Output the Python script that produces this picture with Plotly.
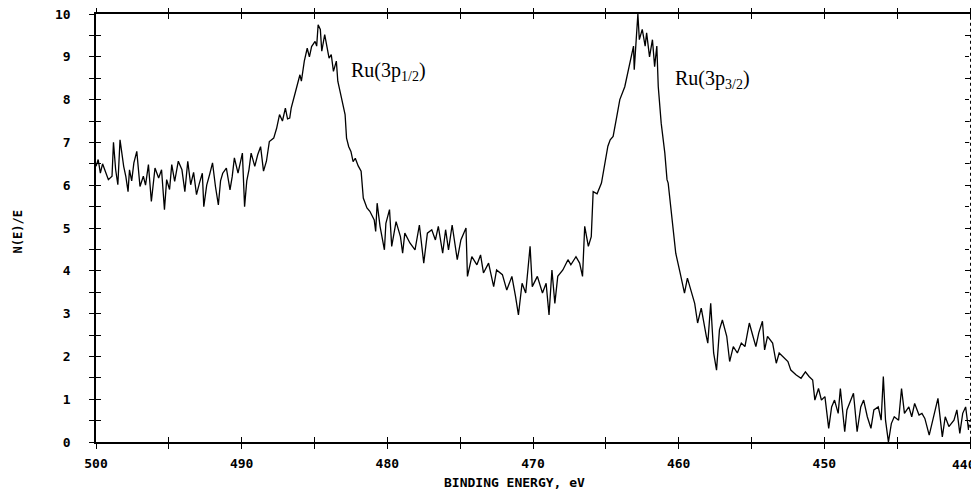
import plotly.graph_objects as go

# ---- data (binding energy in eV, N(E)/E) ----
energy_a = [500.0, 499.85, 499.7, 499.55, 499.4, 499.15, 498.9, 498.8, 498.65, 498.5,
            498.35, 498.1, 497.95, 497.8, 497.7, 497.55, 497.4, 497.2, 496.98, 496.75,
            496.6, 496.4, 496.2, 495.95, 495.7, 495.5, 495.3, 495.15, 494.95, 494.8,
            494.6, 494.35, 494.1, 493.9, 493.7, 493.5, 493.3, 493.1, 492.9, 492.7,
            492.6, 492.4, 492.2, 492.0, 491.8, 491.6, 491.45, 491.3, 491.05, 490.8,
            490.65, 490.5, 490.25, 490.1, 489.95, 489.8, 489.65, 489.5, 489.35, 489.1]
signal_a = [6.44, 6.6, 6.28, 6.5, 6.36, 6.13, 6.21, 7.0, 6.36, 6.01,
            7.06, 6.44, 6.2, 5.85, 6.36, 6.1, 6.52, 6.79, 5.97, 6.21,
            6.0, 6.48, 5.62, 6.4, 6.17, 6.36, 5.43, 6.13, 5.9, 6.48,
            6.09, 6.56, 6.36, 5.85, 6.56, 6.01, 6.3, 5.78, 6.05, 6.28,
            5.5, 6.0, 6.25, 6.52, 5.97, 5.54, 6.1, 6.28, 6.4, 5.89,
            6.2, 6.64, 6.28, 6.5, 6.75, 5.5, 6.1, 6.36, 6.75, 6.44]

energy_b = [488.9, 488.7, 488.5, 488.3, 488.1, 487.8, 487.6, 487.4, 487.2, 487.0,
            486.85, 486.7, 486.6, 486.3, 486.0, 485.9, 485.7, 485.5, 485.35, 485.2,
            484.96, 484.85, 484.75, 484.6, 484.5, 484.3, 484.1, 484.0, 483.85, 483.7,
            483.5, 483.4, 483.25, 483.1, 482.9, 482.8, 482.65, 482.5, 482.35, 482.2,
            482.0, 481.8]
signal_b = [6.71, 6.9, 6.33, 6.56, 7.02, 7.1, 7.33, 7.65, 7.5, 7.8,
            7.55, 7.57, 7.8, 8.19, 8.58, 8.43, 8.9, 9.2, 9.0, 9.24,
            9.36, 9.25, 9.75, 9.64, 9.13, 9.52, 9.13, 8.97, 9.05, 8.66,
            8.9, 8.43, 8.2, 7.96, 7.65, 7.1, 6.9, 6.79, 6.55, 6.63,
            6.45, 6.33]

energy_c = [481.65, 481.4, 481.2, 480.9, 480.8, 480.7, 480.5, 480.2, 480.1, 479.85,
            479.7, 479.4, 479.1, 478.95, 478.8, 478.45, 478.1, 477.8, 477.5, 477.25,
            476.95, 476.7, 476.5, 476.2, 476.0, 475.8, 475.55, 475.2, 474.95, 474.6,
            474.5, 474.2, 473.85, 473.6, 473.4, 473.05, 472.7, 472.5, 472.1, 471.8,
            471.45, 471.2, 471.0, 470.75, 470.5, 470.2, 470.05, 469.7, 469.35, 469.1,
            468.9, 468.7, 468.5, 468.3, 467.95, 467.6, 467.4, 467.05, 466.8, 466.6,
            466.45, 466.2, 466.0]
signal_c = [5.7, 5.47, 5.39, 5.19, 4.92, 5.58, 5.04, 4.49, 5.11, 5.43,
            4.57, 5.15, 4.8, 4.41, 4.88, 4.65, 4.49, 5.07, 4.18, 4.88,
            4.96, 4.72, 5.04, 4.41, 4.96, 4.49, 5.07, 4.26, 4.72, 5.0,
            3.87, 4.33, 4.14, 4.37, 3.95, 4.18, 3.63, 4.02, 3.91, 3.55,
            3.87, 3.4, 2.97, 3.71, 3.48, 4.57, 3.63, 3.87, 3.48, 3.71,
            2.97, 4.02, 3.24, 3.87, 4.02, 4.26, 4.14, 4.33, 4.18, 3.87,
            5.04, 4.57, 4.8]

energy_d = [465.87, 465.6, 465.3, 465.08, 464.86, 464.7, 464.5, 464.25, 464.04, 463.7,
            463.5, 463.3, 463.1, 463.05, 462.9, 462.8, 462.7, 462.5, 462.3, 462.2,
            462.0, 461.8, 461.65, 461.5, 461.4, 461.2, 460.95, 460.8]
signal_d = [5.85, 5.8, 6.05, 6.44, 6.91, 7.06, 7.14, 7.6, 8.0, 8.3,
            8.62, 9.0, 9.25, 8.7, 9.48, 10.0, 9.4, 9.64, 9.25, 9.56,
            9.0, 9.4, 8.77, 9.25, 8.3, 7.45, 6.75, 6.13]

energy_e = [460.72, 460.5, 460.3, 460.2, 459.9, 459.6, 459.4, 459.1, 458.9, 458.7,
            458.45, 458.1, 458.0, 457.8, 457.6, 457.4, 457.2, 457.0, 456.7, 456.5,
            456.25, 455.97, 455.7, 455.45, 455.15, 454.9, 454.7, 454.5, 454.25, 454.1,
            453.9, 453.55, 453.3, 453.1, 452.85, 452.5, 452.3, 451.95, 451.6, 451.3,
            451.05]
signal_e = [6.05, 5.35, 4.8, 4.41, 3.95, 3.48, 3.83, 3.48, 3.24, 2.78,
            3.13, 2.47, 2.31, 3.24, 2.08, 1.68, 2.62, 2.85, 2.47, 1.88,
            2.23, 2.08, 2.31, 2.23, 2.78, 2.47, 2.23, 2.55, 2.82, 2.15,
            2.47, 2.31, 1.84, 2.08, 2.0, 1.88, 1.68, 1.57, 1.49, 1.64,
            1.53]

energy_f = [450.8, 450.65, 450.4, 450.2, 449.96, 449.7, 449.5, 449.3, 449.05, 448.9,
            448.6, 448.45, 448.2, 448.0, 447.75, 447.5, 447.3, 447.05, 446.8, 446.6,
            446.3, 446.1, 445.95, 445.8, 445.6, 445.4, 445.2, 444.9, 444.7, 444.5,
            444.2, 444.0, 443.8, 443.5, 443.3, 443.1, 442.8, 442.5, 442.2, 441.9,
            441.7, 441.45, 441.1, 440.9, 440.7, 440.5, 440.3, 440.1, 440.0]
signal_f = [1.45, 0.98, 1.25, 0.98, 1.06, 0.32, 0.82, 0.98, 0.67, 1.25,
            0.24, 0.75, 0.98, 1.14, 0.24, 0.82, 0.98, 0.59, 0.32, 0.75,
            0.82, 0.51, 1.53, 0.51, 0.0, 0.43, 0.59, 0.51, 1.25, 0.67,
            0.82, 0.59, 0.9, 0.63, 0.67, 0.55, 0.16, 0.63, 1.02, 0.12,
            0.59, 0.36, 0.51, 0.75, 0.2, 0.67, 0.82, 0.28, 0.51]

x_tick_values = [500, 490, 480, 470, 460, 450, 440]
x_tick_labels = ["500", "490", "480", "470", "460", "450", "440"]

peak_labels = ["Ru(3p<sub>1/2</sub>)", "Ru(3p<sub>3/2</sub>)"]
peak_label_energy = [482.6, 460.4]
peak_label_level = [8.65, 8.47]

x_title = "BINDING ENERGY, eV"
y_title = "N(E)/E"

energy = energy_a + energy_b + energy_c + energy_d + energy_e + energy_f
signal = signal_a + signal_b + signal_c + signal_d + signal_e + signal_f
assert len(energy) == len(signal)

tickfont = dict(family="DejaVu Sans Mono", size=13, color="black", weight="bold")

fig = go.Figure()
fig.add_trace(go.Scatter(x=energy, y=signal, mode="lines",
                         line=dict(color="black", width=1.3),
                         showlegend=False, hoverinfo="skip"))
# invisible copy to carry the inner tick marks
fig.add_trace(go.Scatter(x=energy, y=signal, mode="lines", xaxis="x2", yaxis="y2",
                         line=dict(color="rgba(0,0,0,0)", width=0),
                         showlegend=False, hoverinfo="skip"))

xcommon = dict(range=[500, 440], tick0=500, dtick=10, ticklen=5, tickwidth=1.2,
               tickcolor="black", showgrid=False, zeroline=False, mirror="ticks",
               automargin=False, ticklabeloverflow="allow")
ycommon = dict(range=[0, 10], tick0=0, dtick=1, ticklen=5, tickwidth=1.2,
               tickcolor="black", showgrid=False, zeroline=False, mirror="ticks",
               automargin=False, ticklabeloverflow="allow")

# all x labels except the last come from the axis; the last sits at the page edge
axis_labels = [t if v != x_tick_values[-1] else "" for v, t in zip(x_tick_values, x_tick_labels)]

# the page body adds an 8 px offset, so the figure is sized to fit inside it
fig.update_layout(
    width=971, height=490,
    margin=dict(l=88, r=9, t=6, b=56),
    paper_bgcolor="white", plot_bgcolor="white",
    xaxis=dict(**xcommon, ticks="outside", showline=True, linecolor="black", linewidth=1.5,
               tickmode="array", tickvals=x_tick_values, ticktext=axis_labels,
               minor=dict(dtick=5, ticks="outside", ticklen=5, tickwidth=1.2, tickcolor="black"),
               tickfont=tickfont, ticklabelstandoff=4),
    yaxis=dict(**ycommon, ticks="outside", showline=True, linecolor="black", linewidth=1.5,
               minor=dict(dtick=0.5, ticks="outside", ticklen=5, tickwidth=1.2, tickcolor="black"),
               tickfont=tickfont, ticklabelstandoff=16),
    xaxis2=dict(**xcommon, overlaying="x", anchor="y2", ticks="inside", showline=False,
                showticklabels=False,
                minor=dict(dtick=5, ticks="inside", ticklen=5, tickwidth=1.2, tickcolor="black")),
    yaxis2=dict(**ycommon, overlaying="y", anchor="x2", ticks="inside", showline=False,
                showticklabels=False,
                minor=dict(dtick=0.5, ticks="inside", ticklen=5, tickwidth=1.2, tickcolor="black")),
)

fig.add_annotation(x=x_tick_values[-1], y=0, xref="x", yref="y", text=x_tick_labels[-1],
                   showarrow=False, xanchor="right", yanchor="top", xshift=8, yshift=-13,
                   font=tickfont)

# right frame edge is dotted in the reference: break the solid mirror line
fig.add_shape(type="line", xref="paper", yref="paper", x0=1, x1=1, y0=0.012, y1=0.988,
              line=dict(color="white", width=2, dash="dot"), layer="above")

for txt, ex, lv in zip(peak_labels, peak_label_energy, peak_label_level):
    fig.add_annotation(x=ex, y=lv, xref="x", yref="y", text=txt, showarrow=False,
                       xanchor="left", yanchor="middle",
                       font=dict(family="Liberation Serif", size=20, color="black"))

fig.add_annotation(x=0.479, y=-0.094, xref="paper", yref="paper", text=x_title,
                   showarrow=False, xanchor="center", yanchor="middle",
                   font=dict(family="DejaVu Sans Mono", size=13, color="black", weight="bold"))
fig.add_annotation(x=-0.089, y=0.49, xref="paper", yref="paper", text=y_title,
                   showarrow=False, textangle=-90, xanchor="center", yanchor="middle",
                   font=dict(family="DejaVu Sans Mono", size=12, color="black", weight="bold"))

fig.write_html("out.html")
